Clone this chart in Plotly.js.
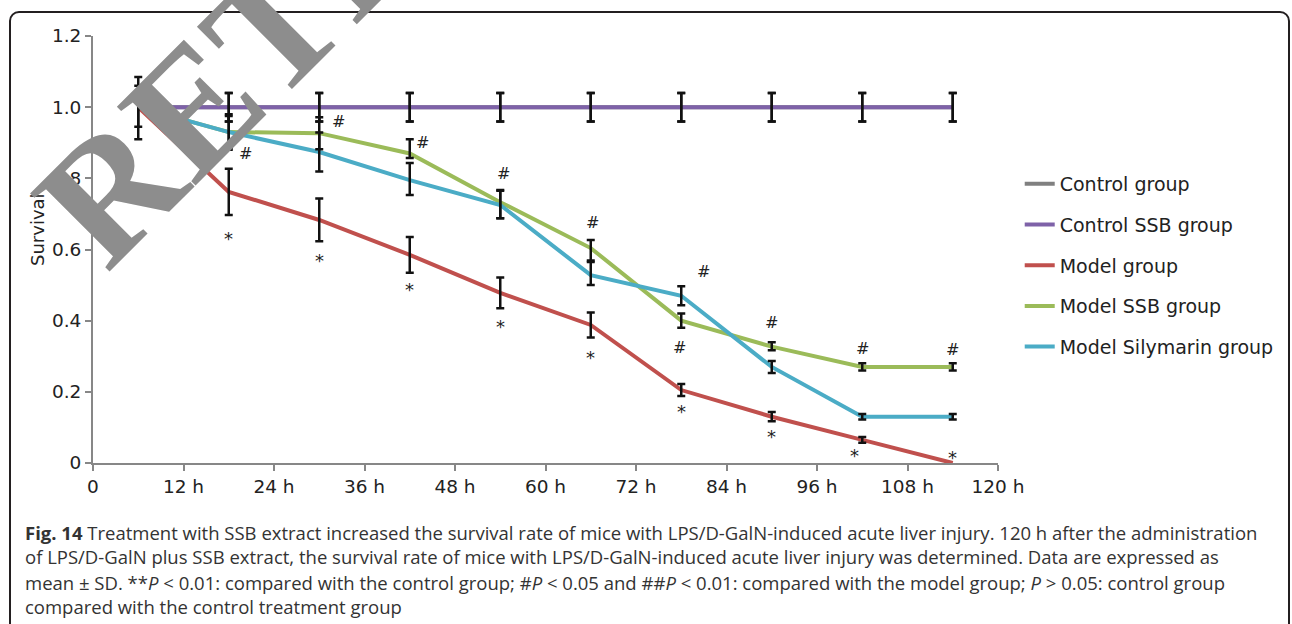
<!DOCTYPE html>
<html>
<head>
<meta charset="utf-8">
<script src="https://cdn.plot.ly/plotly-3.0.1.min.js"></script>
<style>
  html, body { margin: 0; padding: 0; background: #ffffff; overflow: hidden; }
  #wrap { position: relative; width: 1292px; height: 624px; }
  #frame { position: absolute; left: 9px; top: 11px; width: 1281px; height: 700px;
           border: 2px solid #231f20; border-radius: 10px 10px 0 0; box-sizing: border-box; }
  #chart { position: absolute; left: 0; top: 0; width: 1292px; height: 624px; }
</style>
</head>
<body>
<div id="wrap">
  <div id="frame"></div>
  <div id="chart"></div>
</div>
<script>
// ---- data ----
const hours = [6, 18, 30, 42, 54, 66, 78, 90, 102, 114];

const controlGroup   = [1.0, 1.0, 1.0, 1.0, 1.0, 1.0, 1.0, 1.0, 1.0, 1.0];
const controlSSB     = [1.0, 1.0, 1.0, 1.0, 1.0, 1.0, 1.0, 1.0, 1.0, 1.0];
const modelGroup     = [1.0, 0.762, 0.683, 0.585, 0.478, 0.388, 0.205, 0.13, 0.065, 0.0];
const modelSSB       = [1.0, 0.93, 0.927, 0.87, 0.733, 0.604, 0.40, 0.327, 0.27, 0.27];
const modelSilymarin = [1.0, 0.93, 0.874, 0.795, 0.725, 0.528, 0.47, 0.27, 0.13, 0.13];

// SD (upper / lower), null = no error bar drawn
const controlErrUp     = [0.06, 0.04, 0.04, 0.04, 0.04, 0.04, 0.04, 0.04, 0.04, 0.04];
const controlErrDown   = [0.055, 0.04, 0.04, 0.04, 0.04, 0.04, 0.04, 0.04, 0.04, 0.04];
const controlSSBErrUp  = [0.085, 0.04, 0.04, 0.04, 0.04, 0.04, 0.04, 0.04, 0.04, 0.04];
const controlSSBErrDown= [0.09, 0.04, 0.04, 0.04, 0.04, 0.04, 0.04, 0.04, 0.04, 0.04];
const modelErrUp       = [null, 0.065, 0.06, 0.05, 0.043, 0.035, 0.017, 0.013, 0.008, null];
const modelErrDown     = [null, 0.065, 0.06, 0.05, 0.043, 0.035, 0.017, 0.013, 0.008, null];
const modelSSBErrUp    = [null, 0.05, 0.045, 0.04, 0.034, 0.023, 0.02, 0.012, 0.01, 0.01];
const modelSSBErrDown  = [null, 0.05, 0.045, 0.013, 0.045, 0.035, 0.02, 0.01, 0.01, 0.01];
const silyErrUp        = [null, 0.045, 0.055, 0.048, 0.04, 0.037, 0.027, 0.017, 0.008, 0.008];
const silyErrDown      = [null, 0.045, 0.055, 0.042, 0.037, 0.028, 0.027, 0.017, 0.008, 0.008];

// significance labels (text positions in data units)
const hashX = [20.2, 32.6, 43.7, 54.4, 66.2, 80.9, 77.8, 90, 102, 114];
const hashY = [0.871, 0.961, 0.902, 0.815, 0.677, 0.537, 0.326, 0.396, 0.323, 0.318];
const starX = [18, 30, 42, 54, 66, 78, 90, 101, 114];
const starY = [0.641, 0.579, 0.50, 0.396, 0.309, 0.157, 0.087, 0.031, 0.028];

const seriesNames = ['Control group', 'Control SSB group', 'Model group', 'Model SSB group', 'Model Silymarin group'];
const seriesColors = ['#808080', '#7e62a8', '#c0504d', '#9bbb59', '#4bacc6'];

const xTickVals = [0, 12, 24, 36, 48, 60, 72, 84, 96, 108, 120];
const xTickText = ['0', '12 h', '24 h', '36 h', '48 h', '60 h', '72 h', '84 h', '96 h', '108 h', '120 h'];
const yTickVals = [0, 0.2, 0.4, 0.6, 0.8, 1.0, 1.2];
const yTickText = ['0', '0.2', '0.4', '0.6', '0.8', '1.0', '1.2'];

const captionLines = [
  '<b>Fig. 14</b> Treatment with SSB extract increased the survival rate of mice with LPS/D-GalN-induced acute liver injury. 120 h after the administration',
  'of LPS/D-GalN plus SSB extract, the survival rate of mice with LPS/D-GalN-induced acute liver injury was determined. Data are expressed as',
  'mean ± SD. **<i>P</i> &lt; 0.01: compared with the control group; #<i>P</i> &lt; 0.05 and ##<i>P</i> &lt; 0.01: compared with the model group; <i>P</i> &gt; 0.05: control group',
  'compared with the control treatment group'
];

// ---- build traces ----
const values = [controlGroup, controlSSB, modelGroup, modelSSB, modelSilymarin];
const errUp = [controlErrUp, controlSSBErrUp, modelErrUp, modelSSBErrUp, silyErrUp];
const errDown = [controlErrDown, controlSSBErrDown, modelErrDown, modelSSBErrDown, silyErrDown];

const traces = [];
values.forEach((v, i) => {
  traces.push({
    type: 'scatter', mode: 'lines', name: seriesNames[i], legendgroup: seriesNames[i],
    x: hours, y: v, line: {color: seriesColors[i], width: 4}, hoverinfo: 'skip'
  });
});
values.forEach((v, i) => {
  const idx = hours.map((h, k) => k).filter(k => errUp[i][k] !== null);
  traces.push({
    type: 'scatter', mode: 'markers', showlegend: false, hoverinfo: 'skip',
    x: idx.map(k => hours[k]), y: idx.map(k => v[k]),
    marker: {size: 1, color: 'rgba(0,0,0,0)'},
    error_y: {type: 'data', symmetric: false,
              array: idx.map(k => errUp[i][k]), arrayminus: idx.map(k => errDown[i][k]),
              color: '#111111', thickness: 2.5, width: 4}
  });
});

// ---- annotations ----
const annotations = [];
hashX.forEach((x, i) => annotations.push({
  x: x, y: hashY[i], xref: 'x', yref: 'y', text: '#', showarrow: false,
  xanchor: 'center', yanchor: 'middle',
  font: {family: 'DejaVu Sans', size: 16, color: '#222'}
}));
starX.forEach((x, i) => annotations.push({
  x: x, y: starY[i], xref: 'x', yref: 'y', text: '*', showarrow: false, yshift: -4,
  xanchor: 'center', yanchor: 'middle',
  font: {family: 'DejaVu Sans', size: 18, color: '#222'}
}));
const capY = [-0.1616, -0.2201, -0.2787, -0.3372];
captionLines.forEach((t, i) => annotations.push({
  x: -0.0774, y: capY[i], xref: 'paper', yref: 'paper', xanchor: 'left', yanchor: 'middle',
  align: 'left', text: t, showarrow: false,
  font: {family: 'Open Sans', size: 18.5, color: '#333333'}
}));
annotations.push({
  x: -0.0619, y: 0.548, xref: 'paper', yref: 'paper', text: 'Survival', textangle: -90,
  xanchor: 'center', yanchor: 'middle',
  showarrow: false, font: {family: 'DejaVu Sans', size: 18, color: '#222'}
});
annotations.push({
  x: 0.387, y: 1.42, xref: 'paper', yref: 'paper', text: '<b>RETRACTED</b>', textangle: -45,
  xanchor: 'center', yanchor: 'middle',
  showarrow: false, font: {family: 'Liberation Serif', size: 170, color: '#8d8d8d'}
});

const layout = {
  width: 1292, height: 624,
  margin: {l: 93, r: 294, t: 36, b: 161},
  paper_bgcolor: 'rgba(0,0,0,0)', plot_bgcolor: 'rgba(0,0,0,0)',
  showlegend: true,
  legend: {x: 1.024, xanchor: 'left', y: 0.698, yanchor: 'top',
           traceorder: 'grouped', tracegroupgap: 13,
           font: {family: 'DejaVu Sans', size: 19, color: '#222'}, bgcolor: 'rgba(0,0,0,0)'},
  xaxis: {range: [0, 120], tickvals: xTickVals, ticktext: xTickText, showgrid: false, zeroline: false,
          showline: true, linecolor: '#878787', linewidth: 2, ticks: 'outside', ticklen: 6, tickwidth: 2,
          tickcolor: '#878787', tickfont: {family: 'DejaVu Sans', size: 18.5, color: '#222'}, fixedrange: true},
  yaxis: {range: [0, 1.2], tickvals: yTickVals, ticktext: yTickText, showgrid: false, zeroline: false,
          showline: true, linecolor: '#878787', linewidth: 2, ticks: 'outside', ticklen: 6, tickwidth: 2,
          tickcolor: '#878787', tickfont: {family: 'DejaVu Sans', size: 18.5, color: '#222'}, fixedrange: true},
  annotations: annotations
};

Plotly.newPlot('chart', traces, layout, {displayModeBar: false, staticPlot: true});
</script>
</body>
</html>
